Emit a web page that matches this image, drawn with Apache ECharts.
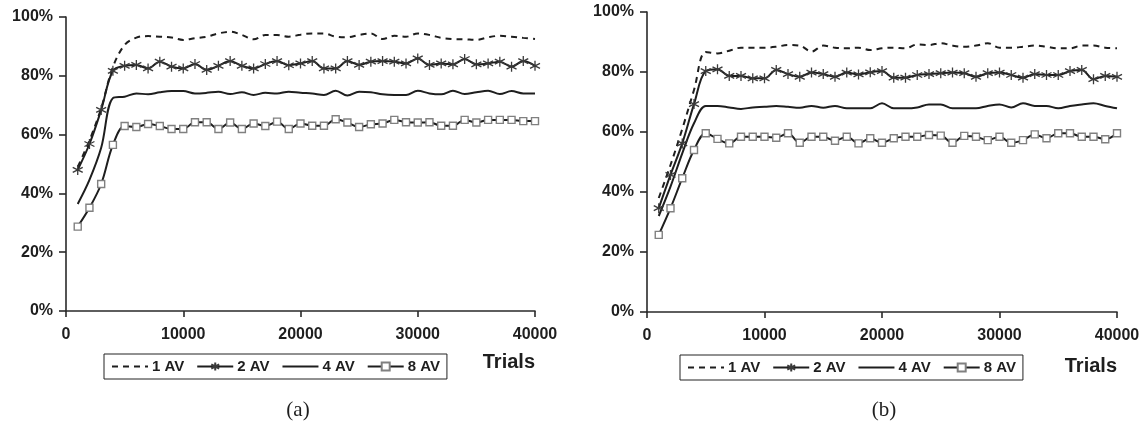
<!DOCTYPE html>
<html>
<head>
<meta charset="utf-8">
<script src="https://cdn.jsdelivr.net/npm/echarts@6/dist/echarts.min.js"></script>
<style>
  html, body { margin: 0; padding: 0; background: #fff; }
  #chart { width: 1143px; height: 425px; }
</style>
</head>
<body>
<div id="chart"></div>
<script>
// Trials at which the success rate was sampled
const trials = [1000, 2000, 3000, 4000, 5000, 6000, 7000, 8000, 9000, 10000,
  11000, 12000, 13000, 14000, 15000, 16000, 17000, 18000, 19000, 20000,
  21000, 22000, 23000, 24000, 25000, 26000, 27000, 28000, 29000, 30000,
  31000, 32000, 33000, 34000, 35000, 36000, 37000, 38000, 39000, 40000];

const seriesNames = ['1 AV', '2 AV', '4 AV', '8 AV'];

// Panel (a), percent
const a1AV = [49, 58, 69, 83, 90.5, 93, 93.5, 93.3, 93, 92.2, 92.8, 93.3, 94.4, 95, 93.9, 92.4, 93.9, 93.9, 93.3, 94,
  94.4, 94.4, 93.3, 93.1, 93.9, 94.4, 92.5, 93.6, 93.3, 94.4, 93.9, 92.9, 92.5, 92.4, 92.2, 93.1, 93.6, 93.3, 92.9, 92.5];
const a2AV = [48, 56.8, 68.4, 81.7, 83.4, 83.7, 82.5, 84.8, 83.1, 82.5, 84.0, 82.0, 83.4, 85.0, 83.4, 82.5, 84.0, 85.0, 83.6, 84.2,
  85.0, 82.5, 82.5, 85.0, 83.7, 84.8, 85.0, 84.8, 84.2, 85.9, 83.7, 84.2, 83.9, 85.7, 83.9, 84.2, 84.8, 83.1, 85.0, 83.4];
const a4AV = [36.4, 44.6, 55.5, 72.4, 72.9, 74, 73.7, 74.4, 74.8, 74.8, 74, 74.2, 74.6, 73.8, 74.4, 73.5, 74.2, 74, 74.6, 74.2,
  74, 73.5, 74.9, 73.3, 74.6, 74.4, 73.7, 73.5, 73.5, 74.9, 74, 73.7, 74.9, 73.8, 74.4, 74.9, 73.8, 74.8, 74, 74];
const a8AV = [28.7, 35.1, 43.2, 56.5, 62.9, 62.6, 63.6, 62.9, 61.9, 61.9, 64.2, 64.2, 61.9, 64.1, 61.9, 63.8, 62.9, 64.4, 61.9, 63.8,
  63, 63, 65.2, 64.1, 62.6, 63.5, 63.8, 65, 64.2, 64.1, 64.2, 63, 63, 65, 64.1, 65, 65, 65, 64.6, 64.6];

// Panel (b), percent
const b1AV = [38, 49, 61, 74, 86.7, 86.2, 87.1, 88.1, 88.1, 88.1, 88.4, 89, 88.8, 86.8, 88.8, 88.1, 87.9, 88.1, 87.3, 87.9,
  88.1, 87.9, 89.2, 89, 89.6, 88.8, 88.4, 88.8, 89.6, 88.1, 88.1, 88.4, 88.8, 88.4, 87.9, 87.9, 88.8, 88.8, 88.1, 87.9];
const b2AV = [34.6, 45.7, 56.2, 69.3, 80.3, 80.9, 78.7, 78.7, 77.9, 77.9, 80.7, 79.3, 78.4, 79.8, 79.3, 78.4, 79.8, 79.2, 79.9, 80.3,
  78.1, 78.1, 79, 79.3, 79.6, 79.8, 79.6, 78.4, 79.6, 79.8, 79, 78.1, 79.3, 79, 79, 80.3, 80.7, 77.6, 78.7, 78.4];
const b4AV = [32, 41.8, 52.9, 62.9, 68.7, 68.7, 68.2, 67.7, 68.2, 68.4, 68.7, 68.4, 68.1, 68.7, 68.1, 68.7, 67.9, 67.9, 67.9, 69.6,
  67.9, 67.9, 68.2, 69.2, 69.2, 67.9, 67.9, 67.9, 68.7, 69.2, 68.2, 69.6, 68.7, 68.7, 67.9, 68.7, 69.2, 69.6, 68.7, 67.9];
const b8AV = [25.7, 34.6, 44.6, 54, 59.6, 57.7, 56.2, 58.4, 58.4, 58.4, 58.1, 59.6, 56.4, 58.4, 58.4, 57.1, 58.4, 56.2, 57.9, 56.4,
  57.9, 58.4, 58.4, 59, 58.8, 56.4, 58.7, 58.4, 57.3, 58.4, 56.4, 57.3, 59.2, 57.9, 59.6, 59.6, 58.4, 58.4, 57.6, 59.6];

const panelLabels = ['(a)', '(b)'];
const xAxisTitle = 'Trials';

const INK = '#1e1e1e';
const SANS = '"Liberation Sans", Arial, sans-serif';
const ASTERISK = 'path://M0,-5L0,5M-4.33,-2.5L4.33,2.5M-4.33,2.5L4.33,-2.5';

function pairs(values) {
  return values.map((v, i) => [trials[i], v]);
}

// Lines without markers: dashed for 1 AV, plain for 4 AV
function hasMarkers(name) {
  return name === '2 AV' || name === '8 AV';
}

// One line per averaging level, styled like the printed figure
function lineSeries(name, values, panel) {
  const base = {
    name: name,
    type: 'line',
    xAxisIndex: panel,
    yAxisIndex: panel,
    data: pairs(values),
    smooth: 0.35,
    animation: false,
    lineStyle: { color: INK, width: 2 },
    itemStyle: { color: INK }
  };
  if (name === '1 AV') {
    base.symbol = 'none';
    base.lineStyle.type = [6, 5];
  } else if (name === '2 AV') {
    base.symbol = ASTERISK;
    base.symbolSize = 10;
    base.itemStyle = { color: '#3a3a3a', borderColor: '#3a3a3a', borderWidth: 1.3 };
  } else if (name === '4 AV') {
    base.symbol = 'none';
  } else {
    base.symbol = 'rect';
    base.symbolSize = 7;
    base.itemStyle = { color: '#ffffff', borderColor: '#808080', borderWidth: 1.4 };
  }
  return base;
}

const tickFont = { color: INK, fontFamily: SANS, fontWeight: 'bold', fontSize: 16 };
const axisLine = { show: true, lineStyle: { color: '#2a2a2a', width: 1.6 } };

function xAxisFor(panel) {
  return {
    type: 'value', gridIndex: panel, min: 0, max: 40000, interval: 10000,
    axisLine: axisLine,
    axisTick: { show: true, length: 6, lineStyle: { color: '#2a2a2a', width: 1.6 } },
    axisLabel: Object.assign({ margin: 16, formatter: v => String(v) }, tickFont),
    splitLine: { show: false }
  };
}
function yAxisFor(panel) {
  return {
    type: 'value', gridIndex: panel, min: 0, max: 100, interval: 20,
    axisLine: axisLine,
    axisTick: { show: true, length: 7, lineStyle: { color: '#2a2a2a', width: 1.6 } },
    axisLabel: Object.assign({ margin: 13, formatter: v => v + '%' }, tickFont),
    splitLine: { show: false }
  };
}

function legendFor(left, top) {
  return {
    data: seriesNames.map(n => hasMarkers(n) ? { name: n } : { name: n, itemStyle: { opacity: 0 } }),
    left: left, top: top,
    orient: 'horizontal',
    itemWidth: 36, itemHeight: 10, itemGap: 12,
    padding: [5, 7],
    borderColor: '#222', borderWidth: 1,
    selectedMode: false,
    textStyle: { color: INK, fontFamily: SANS, fontWeight: 'bold', fontSize: 15, padding: [0, 0, 0, -1] }
  };
}

const chart = echarts.init(document.getElementById('chart'), null, { renderer: 'canvas' });

chart.setOption({
  backgroundColor: '#ffffff',
  animation: false,
  grid: [
    { left: 66, right: 608, top: 17, bottom: 114 },
    { left: 647, right: 26, top: 12, bottom: 113 }
  ],
  xAxis: [xAxisFor(0), xAxisFor(1)],
  yAxis: [yAxisFor(0), yAxisFor(1)],
  legend: [legendFor(104, 354), legendFor(680, 355)],
  series: [
    lineSeries('1 AV', a1AV, 0),
    lineSeries('2 AV', a2AV, 0),
    lineSeries('4 AV', a4AV, 0),
    lineSeries('8 AV', a8AV, 0),
    lineSeries('1 AV', b1AV, 1),
    lineSeries('2 AV', b2AV, 1),
    lineSeries('4 AV', b4AV, 1),
    lineSeries('8 AV', b8AV, 1)
  ],
  graphic: [
    { type: 'text', x: 535, y: 362, style: { text: xAxisTitle, align: 'right', verticalAlign: 'middle',
      fill: INK, font: 'bold 20px ' + SANS } },
    { type: 'text', x: 1117, y: 366, style: { text: xAxisTitle, align: 'right', verticalAlign: 'middle',
      fill: INK, font: 'bold 20px ' + SANS } },
    { type: 'text', x: 298, y: 410, style: { text: panelLabels[0], align: 'center', verticalAlign: 'middle',
      fill: INK, font: '21px "Liberation Serif", "Times New Roman", serif' } },
    { type: 'text', x: 884, y: 410, style: { text: panelLabels[1], align: 'center', verticalAlign: 'middle',
      fill: INK, font: '21px "Liberation Serif", "Times New Roman", serif' } }
  ]
});
</script>
</body>
</html>
